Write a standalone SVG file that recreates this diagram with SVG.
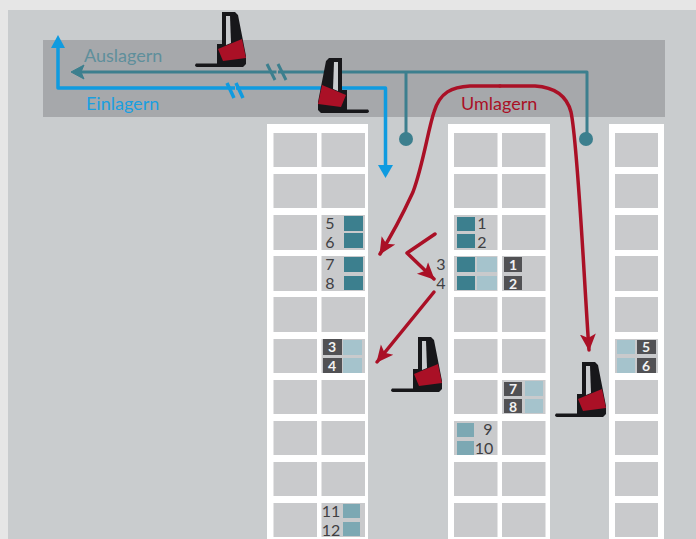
<svg xmlns="http://www.w3.org/2000/svg" width="696" height="539" viewBox="0 0 696 539">
<style>
.cell{fill:#c9cacc}
.rack{fill:#fff}
.t{font-family:"Lato","Noto Sans",sans-serif;font-size:16px;fill:#3f4043;text-anchor:middle}
.w{fill:#f2f2f2;font-size:14px;font-weight:700}
.lb{font-family:"Lato","Noto Sans",sans-serif;font-size:18px}
.teal{fill:#3c7f8e}.light{fill:#a5c3cc}.mid{fill:#7ca8b3}.dark{fill:#515154}
.ln{fill:none;stroke-linejoin:round}
.tl{stroke:#3c7f8e;stroke-width:3}
.bl{stroke:#0f9be0;stroke-width:3.500}
.rd{stroke:#aa1026;stroke-width:3.500;stroke-linecap:round}
.gap{stroke:#a6a8ab;stroke-width:6}
</style>
<defs>
<g id="truck">
<path d="M27 0H40L43 3L51 44V52L48 55H22V32H27Z" fill="#17171a"/>
<path d="M31 4H35L36 31L31 33Z" fill="#c9cbce"/>
<path d="M1 51.500H30V55H3Q0 55 0 53Z" fill="#17171a"/>
<path d="M23 37L47 27L51 46L28 49Z" fill="#aa1026"/>
</g>
<marker id="ar" markerUnits="userSpaceOnUse" markerWidth="18" markerHeight="18" refX="16" refY="9" orient="auto"><path d="M0 1L17 9L0 17L4 9Z" fill="#aa1026"/></marker>
</defs>
<rect width="696" height="539" fill="#e6e6e6"/>
<rect x="8" y="10" width="688" height="529" fill="#c9ccce"/>
<rect x="43" y="40" width="622" height="77" fill="#a6a8ab"/>

<g id="rack-1">
<rect class="rack" x="267" y="124" width="101" height="415"/>
<g class="cell">
<rect x="273.500" y="133" width="43.500" height="34"/><rect x="321.500" y="133" width="43.500" height="34"/>
<rect x="273.500" y="174" width="43.500" height="34"/><rect x="321.500" y="174" width="43.500" height="34"/>
<rect x="273.500" y="215" width="43.500" height="35"/><rect x="321.500" y="215" width="43.500" height="35"/>
<rect x="273.500" y="256" width="43.500" height="35"/><rect x="321.500" y="256" width="43.500" height="35"/>
<rect x="273.500" y="297" width="43.500" height="35"/><rect x="321.500" y="297" width="43.500" height="35"/>
<rect x="273.500" y="339" width="43.500" height="34"/><rect x="321.500" y="339" width="43.500" height="34"/>
<rect x="273.500" y="380" width="43.500" height="34"/><rect x="321.500" y="380" width="43.500" height="34"/>
<rect x="273.500" y="421" width="43.500" height="34"/><rect x="321.500" y="421" width="43.500" height="34"/>
<rect x="273.500" y="462" width="43.500" height="34"/><rect x="321.500" y="462" width="43.500" height="34"/>
<rect x="273.500" y="503" width="43.500" height="34"/><rect x="321.500" y="503" width="43.500" height="34"/>
</g>
<rect class="teal" x="344" y="216" width="19" height="15"/><rect class="teal" x="344" y="233" width="19" height="15"/>
<rect class="teal" x="344" y="257" width="19" height="15"/><rect class="teal" x="344" y="276" width="19" height="14"/>
<rect class="dark" x="323" y="339" width="19" height="16"/><rect class="dark" x="323" y="358" width="19" height="15"/>
<rect class="light" x="343" y="340" width="19" height="15"/><rect class="light" x="343" y="358" width="19" height="15"/>
<rect class="mid" x="343" y="504" width="17" height="14"/><rect class="mid" x="343" y="522" width="17" height="14"/>
<text class="t" x="330" y="229">5</text><text class="t" x="330" y="248">6</text>
<text class="t" x="330" y="270">7</text><text class="t" x="330" y="289">8</text>
<text class="t w" x="332" y="352">3</text><text class="t w" x="332" y="371">4</text>
<text class="t" x="331" y="517">11</text><text class="t" x="331" y="536">12</text>
</g>

<g id="rack-2">
<rect class="rack" x="448" y="124" width="102" height="415"/>
<g class="cell">
<rect x="454" y="133" width="43.500" height="34"/><rect x="502" y="133" width="43.500" height="34"/>
<rect x="454" y="174" width="43.500" height="34"/><rect x="502" y="174" width="43.500" height="34"/>
<rect x="454" y="215" width="43.500" height="35"/><rect x="502" y="215" width="43.500" height="35"/>
<rect x="454" y="256" width="43.500" height="35"/><rect x="502" y="256" width="43.500" height="35"/>
<rect x="454" y="297" width="43.500" height="35"/><rect x="502" y="297" width="43.500" height="35"/>
<rect x="454" y="339" width="43.500" height="34"/><rect x="502" y="339" width="43.500" height="34"/>
<rect x="454" y="380" width="43.500" height="34"/><rect x="502" y="380" width="43.500" height="34"/>
<rect x="454" y="421" width="43.500" height="34"/><rect x="502" y="421" width="43.500" height="34"/>
<rect x="454" y="462" width="43.500" height="34"/><rect x="502" y="462" width="43.500" height="34"/>
<rect x="454" y="503" width="43.500" height="34"/><rect x="502" y="503" width="43.500" height="34"/>
</g>
<rect class="teal" x="457" y="217" width="18" height="14"/><rect class="teal" x="457" y="234" width="18" height="14"/>
<rect class="teal" x="457" y="257" width="18" height="15"/><rect class="teal" x="457" y="276" width="18" height="14"/>
<rect class="light" x="477" y="257" width="20" height="15"/><rect class="light" x="477" y="276" width="20" height="14"/>
<rect class="dark" x="504" y="257" width="18" height="15"/><rect class="dark" x="504" y="276" width="18" height="14"/>
<rect class="dark" x="504" y="382" width="18" height="14"/><rect class="dark" x="504" y="399" width="18" height="14"/>
<rect class="light" x="525" y="381" width="18" height="15"/><rect class="light" x="525" y="399" width="18" height="14"/>
<rect class="mid" x="457" y="423" width="17" height="14"/><rect class="mid" x="457" y="441" width="17" height="14"/>
<text class="t" x="482" y="229">1</text><text class="t" x="482" y="248">2</text>
<text class="t w" x="513" y="270">1</text><text class="t w" x="513" y="289">2</text>
<text class="t w" x="513" y="394">7</text><text class="t w" x="513" y="412">8</text>
<text class="t" x="488" y="435">9</text><text class="t" x="484" y="454">10</text>
</g>

<g id="rack-3">
<rect class="rack" x="609" y="124" width="55" height="415"/>
<g class="cell">
<rect x="615" y="133" width="43" height="34"/><rect x="615" y="174" width="43" height="34"/>
<rect x="615" y="215" width="43" height="35"/><rect x="615" y="256" width="43" height="35"/>
<rect x="615" y="297" width="43" height="35"/><rect x="615" y="339" width="43" height="34"/>
<rect x="615" y="380" width="43" height="34"/><rect x="615" y="421" width="43" height="34"/>
<rect x="615" y="462" width="43" height="34"/><rect x="615" y="503" width="43" height="34"/>
</g>
<rect class="light" x="617" y="340" width="18" height="14"/><rect class="light" x="617" y="358" width="18" height="15"/>
<rect class="dark" x="637" y="340" width="19" height="14"/><rect class="dark" x="637" y="358" width="19" height="15"/>
<text class="t w" x="646" y="352">5</text><text class="t w" x="646" y="371">6</text>
</g>

<g id="connectors">
<path class="ln tl" d="M78 72H587V139"/>
<path class="ln tl" d="M406 72V139"/>
<circle cx="406" cy="139" r="7" fill="#3c7f8e"/><circle cx="586" cy="139" r="7" fill="#3c7f8e"/>
<path d="M71 72L84 65L81 72L84 79Z" fill="#3c7f8e" stroke="#3c7f8e"/>
<path class="ln bl" d="M58 46V88H385.500V168"/>
<path d="M58 35L65 48H51Z" fill="#0f9be0"/>
<path d="M385.500 178L378 165H393Z" fill="#0f9be0"/>
<path class="ln gap" d="M276.500 72H278"/>
<path class="ln gap" d="M235 88H236"/>
<path class="ln tl" d="M267 64L275 80M278 64L286 80"/>
<path class="ln bl" d="M227 83L234 98M236 83L243 98"/>
<path class="ln rd" marker-end="url(#ar)" d="M500 86H470C452 87 440 92 434 112C428 130 423 165 413 192C407 205 398 225 380 254"/>
<path class="ln rd" marker-end="url(#ar)" d="M500 86H535C552 87 566 93 571 112C578 145 584 280 589 350"/>
<path class="ln rd" marker-end="url(#ar)" d="M435 234L407 253L434 279"/>
<path class="ln rd" marker-end="url(#ar)" d="M434 292L377 362"/>
</g>

<g id="label-auslagern"><text class="lb" x="84" y="62" fill="#5f8f9b">Auslagern</text></g>
<g id="label-einlagern"><text class="lb" x="86" y="110" fill="#1a9fe0">Einlagern</text></g>
<g id="label-umlagern"><text class="lb" x="461" y="110" fill="#aa1026">Umlagern</text></g>
<g id="numbers-3-4"><text class="t" x="441" y="270">3</text><text class="t" x="441" y="289">4</text></g>

<g id="truck-1"><use href="#truck" x="195" y="12"/></g>
<g id="truck-2"><use href="#truck" transform="translate(369 58) scale(-1 1)"/></g>
<g id="truck-3"><use href="#truck" x="391" y="337"/></g>
<g id="truck-4"><use href="#truck" x="555" y="362"/></g>
</svg>
